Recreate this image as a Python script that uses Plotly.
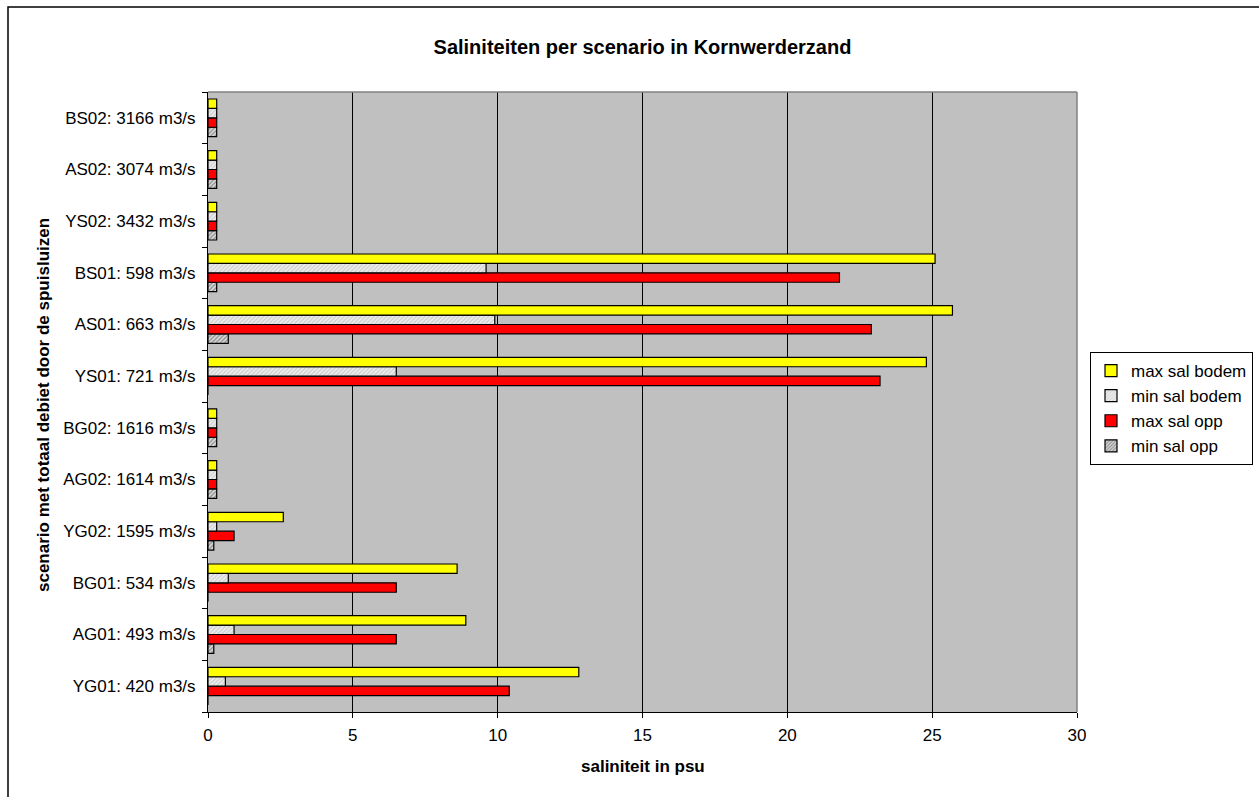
import plotly.graph_objects as go

# Scenarios, bottom to top as drawn on the category axis
scenarios = [
    "YG01: 420 m3/s", "AG01: 493 m3/s", "BG01: 534 m3/s", "YG02: 1595 m3/s",
    "AG02: 1614 m3/s", "BG02: 1616 m3/s", "YS01: 721 m3/s", "AS01: 663 m3/s",
    "BS01: 598 m3/s", "YS02: 3432 m3/s", "AS02: 3074 m3/s", "BS02: 3166 m3/s",
]

# Salinity in psu per scenario
max_sal_bodem = [12.8, 8.9, 8.6, 2.6, 0.3, 0.3, 24.8, 25.7, 25.1, 0.3, 0.3, 0.3]
min_sal_bodem = [0.6, 0.9, 0.7, 0.3, 0.3, 0.3, 6.5, 9.9, 9.6, 0.3, 0.3, 0.3]
max_sal_opp = [10.4, 6.5, 6.5, 0.9, 0.3, 0.3, 23.2, 22.9, 21.8, 0.3, 0.3, 0.3]
min_sal_opp = [0.0, 0.2, 0.0, 0.2, 0.3, 0.3, 0.0, 0.7, 0.3, 0.3, 0.3, 0.3]

x_ticks = [0, 5, 10, 15, 20, 25, 30]

FONT = "Arial, Liberation Sans, sans-serif"
FS = 17

fig = go.Figure()

# Traces are added bottom-up within each group; the legend is reversed
series = [
    ("min sal opp", min_sal_opp, dict(color="#c8c8c8",
                                      pattern=dict(shape="/", fgcolor="#404040",
                                                   bgcolor="#dcdcdc", size=3, solidity=0.45))),
    ("max sal opp", max_sal_opp, dict(color="#ff0000")),
    ("min sal bodem", min_sal_bodem, dict(color="#e6e6e6",
                                          pattern=dict(shape="/", fgcolor="#a8a8a8",
                                                       bgcolor="#ececec", size=3, solidity=0.35))),
    ("max sal bodem", max_sal_bodem, dict(color="#ffff00")),
]

for name, vals, marker in series:
    marker = dict(marker)
    marker["line"] = dict(color="#000000", width=1.2)
    fig.add_trace(go.Bar(
        y=scenarios, x=vals, name=name, orientation="h",
        marker=marker,
    ))

# plot area sits at pixel l=208, r=1077, t=92, b=712
L, R, T, B, W, H = 208, 1077, 92, 712, 1259, 797
pw, ph = R - L, B - T

def px_x(px):
    return (px - L) / pw

def px_y(py):
    return (B - py) / ph

fig.update_layout(
    width=W, height=H,
    margin=dict(l=L, r=W - R, t=T, b=H - B, pad=0, autoexpand=False),
    paper_bgcolor="white",
    plot_bgcolor="#c0c0c0",
    barmode="group",
    bargap=0.27,
    bargroupgap=0,
    font=dict(family=FONT, size=FS, color="#000000"),
    title=dict(
        text="<b>Saliniteiten per scenario in Kornwerderzand</b>",
        x=0.5, xref="paper", y=1 - 47 / H, yref="container",
        xanchor="center", yanchor="middle",
        font=dict(family=FONT, size=20, color="#000000"),
    ),
    xaxis=dict(
        range=[0, 30], tickvals=x_ticks, ticktext=[str(v) for v in x_ticks],
        showgrid=True, gridcolor="#000000", gridwidth=1,
        zeroline=False,
        showline=True, linecolor="#000000", linewidth=1,
        ticks="outside", ticklen=5, tickcolor="#000000",
        tickfont=dict(size=FS), ticklabelstandoff=3,
        automargin=False,
    ),
    yaxis=dict(
        type="category", categoryorder="array", categoryarray=scenarios,
        showgrid=False, zeroline=False,
        showline=True, linecolor="#000000", linewidth=1,
        ticks="outside", ticklen=5, tickcolor="#000000", tickson="boundaries",
        tickfont=dict(size=FS), ticklabelstandoff=8,
        automargin=False,
    ),
    legend=dict(
        x=px_x(1090), y=px_y(352), xanchor="left", yanchor="top",
        traceorder="reversed",
        bgcolor="white", bordercolor="#000000", borderwidth=1,
        font=dict(family=FONT, size=FS, color="#000000"),
        itemwidth=30,
    ),
    showlegend=True,
)

# axis titles
fig.add_annotation(
    text="<b>saliniteit in psu</b>", xref="paper", yref="paper",
    x=0.5, y=px_y(766), xanchor="center", yanchor="middle", showarrow=False,
    font=dict(family=FONT, size=FS, color="#000000"),
)
fig.add_annotation(
    text="<b>scenario met totaal debiet door de spuisluizen</b>", xref="paper", yref="paper",
    x=px_x(43), y=px_y(405), xanchor="center", yanchor="middle", textangle=-90, showarrow=False,
    font=dict(family=FONT, size=FS, color="#000000"),
)

# grey top and right edges of the plot area
fig.add_shape(type="line", xref="paper", yref="paper", x0=0, x1=1, y0=1, y1=1,
              line=dict(color="#808080", width=1.5), layer="above")
fig.add_shape(type="line", xref="paper", yref="paper", x0=1, x1=1, y0=0, y1=1,
              line=dict(color="#808080", width=1.5), layer="above")

# chart frame
fig.add_shape(type="rect", xref="paper", yref="paper",
              x0=px_x(8), x1=px_x(1264), y0=px_y(802), y1=px_y(7),
              line=dict(color="#000000", width=1.5), fillcolor="rgba(0,0,0,0)", layer="above")

fig.write_html("out.html")
